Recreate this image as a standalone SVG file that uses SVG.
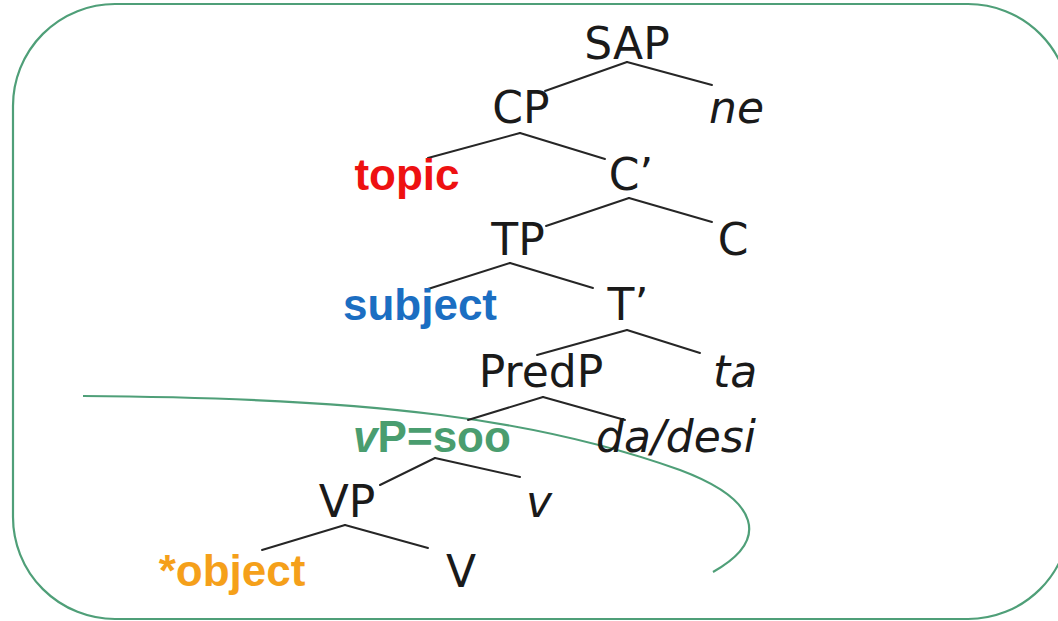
<svg xmlns="http://www.w3.org/2000/svg" width="1058" height="621" viewBox="0 0 1058 621">
  <style>
    .lbl { font-family: "DejaVu Sans", "Liberation Sans", sans-serif; font-size: 44px; fill: #1a1a1a; }
    .it { font-style: italic; }
    .mid { text-anchor: middle; }
    .bold { font-family: "Liberation Sans", Arial, sans-serif; font-weight: bold; font-size: 44px; text-anchor: middle; }
    .edge { stroke: #262626; stroke-width: 2; fill: none; stroke-linecap: round; }
    .frame { stroke: #4f9f78; stroke-width: 2.2; fill: none; }
  </style>
  <rect width="1058" height="621" fill="#ffffff"/>

  <!-- outer rounded frame -->
  <rect class="frame" x="13" y="4" width="1057" height="615" rx="102" ry="102"/>

  <!-- green boundary curve around the lower part of the tree -->
  <path class="frame" d="M83,396 C380,398 540,420 680,470 C760,500 770,540 713,572"/>

  <!-- tree branches -->
  <g id="edges">
    <line class="edge" x1="627" y1="62" x2="545" y2="91"/>
    <line class="edge" x1="627" y1="62" x2="712" y2="85"/>
    <line class="edge" x1="520" y1="133" x2="428" y2="158"/>
    <line class="edge" x1="520" y1="133" x2="605" y2="159"/>
    <line class="edge" x1="629" y1="198" x2="546" y2="226"/>
    <line class="edge" x1="629" y1="198" x2="712" y2="222"/>
    <line class="edge" x1="510" y1="263" x2="428" y2="289"/>
    <line class="edge" x1="510" y1="263" x2="593" y2="288"/>
    <line class="edge" x1="627" y1="330" x2="537" y2="355"/>
    <line class="edge" x1="627" y1="330" x2="700" y2="353"/>
    <line class="edge" x1="543" y1="397" x2="468" y2="420"/>
    <line class="edge" x1="543" y1="397" x2="625" y2="420"/>
    <line class="edge" x1="435" y1="458" x2="380" y2="485"/>
    <line class="edge" x1="435" y1="458" x2="520" y2="477"/>
    <line class="edge" x1="345" y1="525" x2="262" y2="550"/>
    <line class="edge" x1="345" y1="525" x2="428" y2="548"/>
  </g>

  <g id="n-SAP"><text class="lbl mid" x="627" y="59">SAP</text></g>
  <g id="n-CP"><text class="lbl mid" x="521" y="123">CP</text></g>
  <g id="n-ne"><text class="lbl it" x="709" y="123">ne</text></g>
  <g id="n-topic"><text class="bold" x="407" y="190" fill="#ee1111">topic</text></g>
  <g id="n-Cbar"><text class="lbl mid" x="631" y="190">C’</text></g>
  <g id="n-TP"><text class="lbl mid" x="518" y="255">TP</text></g>
  <g id="n-C"><text class="lbl mid" x="733" y="255">C</text></g>
  <g id="n-subject"><text class="bold" x="420" y="320" fill="#1b6ec2">subject</text></g>
  <g id="n-Tbar"><text class="lbl mid" x="628" y="320">T’</text></g>
  <g id="n-PredP"><text class="lbl mid" x="541" y="387">PredP</text></g>
  <g id="n-ta"><text class="lbl it" x="713" y="387">ta</text></g>
  <g id="n-vP"><text class="bold" x="432" y="452" fill="#4a9d6f"><tspan font-style="italic">v</tspan>P=soo</text></g>
  <g id="n-dadesi"><text class="lbl it" x="596" y="452">da/desi</text></g>
  <g id="n-VP"><text class="lbl mid" x="347" y="517">VP</text></g>
  <g id="n-v"><text class="lbl it" x="526" y="517">v</text></g>
  <g id="n-object"><text class="bold" x="232" y="586" fill="#f5a01a">*object</text></g>
  <g id="n-V"><text class="lbl mid" x="461" y="587">V</text></g>
</svg>
